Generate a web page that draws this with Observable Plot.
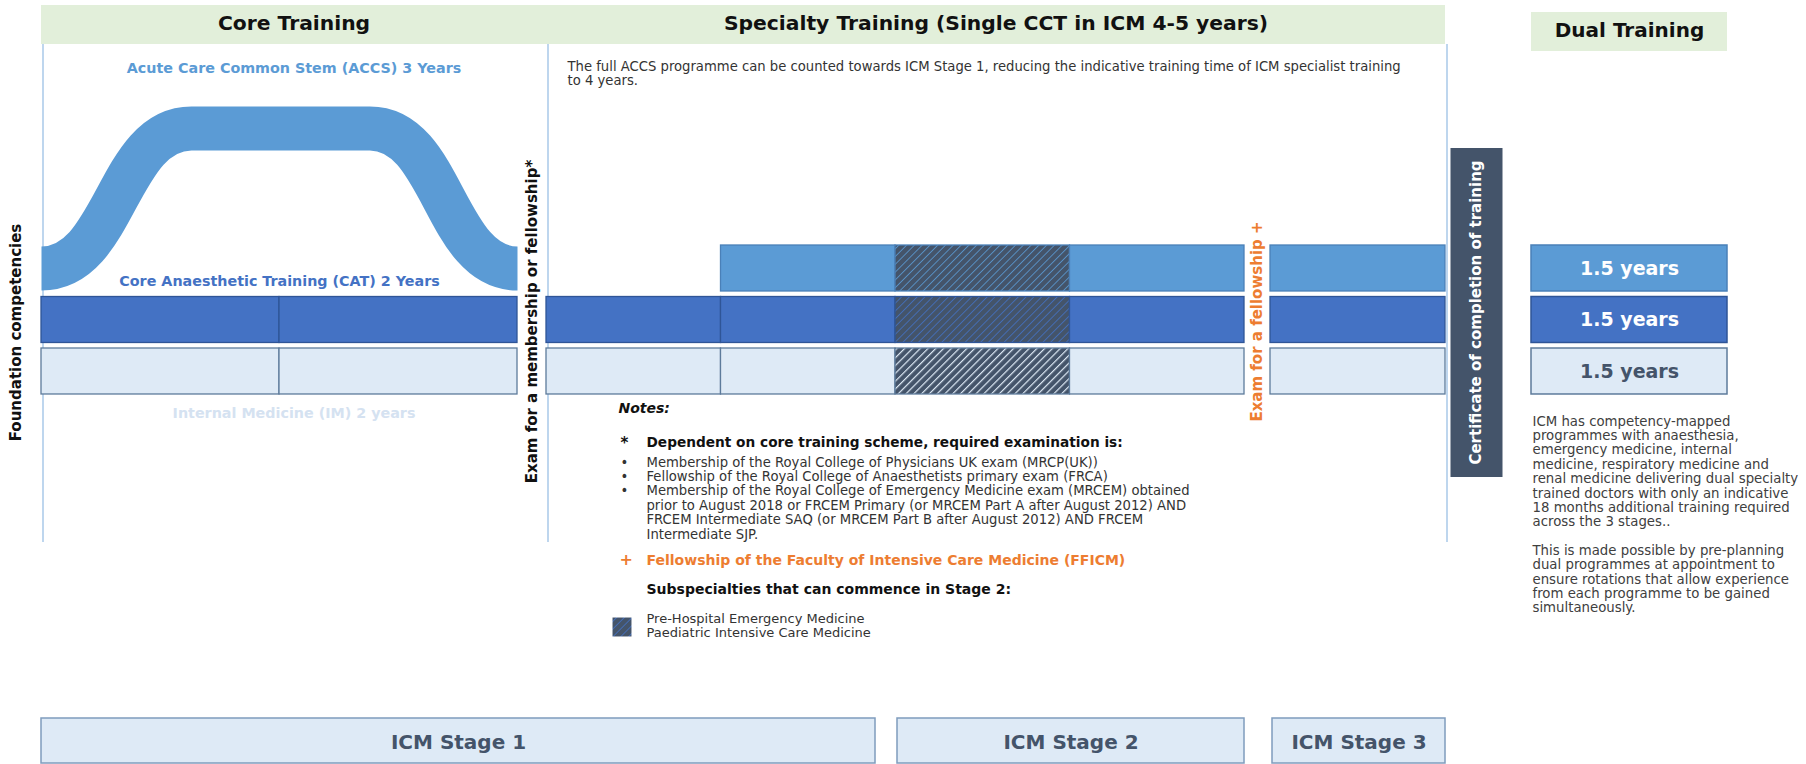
<!DOCTYPE html>
<html>
<head>
<meta charset="utf-8">
<script src="https://cdn.jsdelivr.net/npm/d3@7"></script>
<script src="https://cdn.jsdelivr.net/npm/@observablehq/plot@0.6"></script>
<style>
  html, body { margin: 0; padding: 0; background: #fff; overflow: hidden; }
  #chart svg { display: block; }
</style>
</head>
<body>
<div id="chart"></div>
<script>
// ---------------- DATA ----------------
const programmes = ["ACCS", "CAT", "IM"];
const programmeLabels = [
  "Acute Care Common Stem (ACCS) 3 Years",
  "Core Anaesthetic Training (CAT) 2 Years",
  "Internal Medicine (IM) 2 years"
];
// training blocks (years from start of core training)
const blockProgramme = ["ACCS","ACCS","ACCS","ACCS", "CAT","CAT","CAT","CAT","CAT","CAT","CAT", "IM","IM","IM","IM","IM","IM","IM"];
const blockStart     = [3,4,5,6, 0,1,2,3,4,5,6, 0,1,2,3,4,5,6];
const blockEnd       = [4,5,6,7, 1,2,3,4,5,6,7, 1,2,3,4,5,6,7];
const subspecialtyWindow = [4, 5];          // years where subspecialties can commence
// ACCS path over the core years (rise 0 = in lane, 1 = lifted)
const accsArcYear = [0, 0.63, 1.38, 2];
const accsArcRise = [0, 1, 1, 0];

const headerLabels = ["Core Training", "Specialty Training (Single CCT in ICM 4-5 years)"];
const headerFrom = [0, 2];
const headerTo   = [2, 7];

const stageNames = ["ICM Stage 1", "ICM Stage 2", "ICM Stage 3"];
const stageStart = [0, 4, 6];
const stageEnd   = [4, 6, 7];

const examLabels = ["Exam for a membership or fellowship*", "Exam for a fellowship +"];
const examAfterYear = [2, 6];
const completionLabel = "Certificate of completion of training";
const completionYear = 7;

const dualTitle = "Dual Training";
const dualYears = [1.5, 1.5, 1.5];
const dualLabel = "1.5 years";

const foundationLabel = "Foundation competencies";
const topNote = "The full ACCS programme can be counted towards ICM Stage 1, reducing the indicative training time of ICM specialist training\nto 4 years.";
const notesTitle = "Notes:";
const examNoteHead = "Dependent on core training scheme, required examination is:";
const examNoteItems = [
  "Membership of the Royal College of Physicians UK exam (MRCP(UK))",
  "Fellowship of the Royal College of Anaesthetists primary exam (FRCA)",
  "Membership of the Royal College of Emergency Medicine exam (MRCEM) obtained\nprior to August 2018 or FRCEM Primary (or MRCEM Part A after August 2012) AND\nFRCEM Intermediate SAQ (or MRCEM Part B after August 2012) AND FRCEM\nIntermediate SJP."
];
const fellowshipNote = "Fellowship of the Faculty of Intensive Care Medicine (FFICM)";
const subspecialtyHead = "Subspecialties that can commence in Stage 2:";
const subspecialties = ["Pre-Hospital Emergency Medicine", "Paediatric Intensive Care Medicine"];
const dualNote = [
  "ICM has competency-mapped", "programmes with anaesthesia,", "emergency medicine, internal",
  "medicine, respiratory medicine and", "renal medicine delivering dual specialty",
  "trained doctors with only an indicative", "18 months additional training required",
  "across the 3 stages..", "",
  "This is made possible by pre-planning", "dual programmes at appointment to",
  "ensure rotations that allow experience", "from each programme to be gained", "simultaneously."
];

// ---------------- STYLE ----------------
const FILL = {ACCS: "#5b9bd5", CAT: "#4472c4", IM: "#deeaf6"};
const EDGE = {ACCS: "#4a80b8", CAT: "#2f5597", IM: "#5d7b9b"};
const LABEL = {ACCS: "#5b9bd5", CAT: "#4472c4", IM: "#d5e2f1"};
const HATCH_BG = "#44546a";
const GREEN = "#e2efda";
const ORANGE = "#ed7d31";
const SLATE = "#44546a";
const FONT = "'DejaVu Sans', sans-serif";
const STAGE1_TRIM = 20;                  // px gap between stage 1 and stage 2 boxes

// timeline: exam slots are inserted as gaps after years 2 and 6
const GAP = [0.17, 0.15];
const tStart = y => y + (y >= examAfterYear[0] ? GAP[0] : 0) + (y >= examAfterYear[1] ? GAP[1] : 0);
const tEnd   = y => y + (y >  examAfterYear[0] ? GAP[0] : 0) + (y >  examAfterYear[1] ? GAP[1] : 0);
const DUAL0 = tEnd(7) + 0.5;
const X_DOMAIN = [tStart(0), tEnd(2), tStart(2), tEnd(6), tStart(6), tEnd(7), DUAL0, DUAL0 + 1.5];
const X_RANGE  = [41, 517, 546, 1244, 1270, 1445, 1531, 1727];
const xs = d3.scaleLinear().domain(X_DOMAIN).range(X_RANGE);
const midX = (a, b, trim = 0) => xs.invert((xs(a) + xs(b) - trim) / 2);
const LANE = 0.893;                      // lane thickness (in lane units)
const ARCH_RISE = 2.72;                  // lane units

const blocks = blockProgramme.map((p, i) => ({
  programme: p, start: blockStart[i], end: blockEnd[i],
  sub: blockStart[i] >= subspecialtyWindow[0] && blockEnd[i] <= subspecialtyWindow[1]
}));
const lane = p => programmes.indexOf(p);
const arc = accsArcYear.map((y, i) => ({year: y, rise: accsArcRise[i]}));
const headers = headerLabels.map((t, i) => ({label: t, from: headerFrom[i], to: headerTo[i]}));
const stages = stageNames.map((t, i) => ({label: t, start: stageStart[i], end: stageEnd[i]}));
const exams = examLabels.map((t, i) => ({label: t, year: examAfterYear[i]}));
const duals = programmes.map((p, i) => ({programme: p, years: dualYears[i]}));

const note = (text, o) => Plot.text([text], Object.assign({
  frameAnchor: "top-left", textAnchor: "start", lineAnchor: "top",
  fontFamily: FONT, fontSize: 12.5, fill: "#333"
}, o));

const svg = Plot.plot({
  width: 1806, height: 764, margin: 0,
  x: {type: "linear", axis: null, domain: X_DOMAIN, range: X_RANGE},
  y: {type: "linear", axis: null, domain: [0, 3], range: [245, 399.5]},
  color: {type: "identity"},
  style: {fontFamily: FONT, background: "#fff", overflow: "visible"},
  marks: [
    // header band
    Plot.rect([0], {x1: tStart(0), x2: tEnd(7), fill: GREEN, insetTop: 5, insetBottom: 720}),
    Plot.text(headers, {x: d => midX(tStart(d.from), d.to === 7 ? tEnd(d.to) : tStart(d.to)),
      text: "label", frameAnchor: "top", lineAnchor: "middle", dy: 23, fontSize: 20.3, fontWeight: 700, fill: "#111"}),
    // dual header
    Plot.rect([0], {x1: DUAL0, x2: DUAL0 + 1.5, fill: GREEN, insetTop: 12, insetBottom: 713}),
    Plot.text([dualTitle], {x: DUAL0 + 0.75, frameAnchor: "top", lineAnchor: "middle", dy: 30, fontSize: 20, fontWeight: 700, fill: "#111"}),
    // panel lines
    Plot.ruleX([tStart(0), tStart(2), tEnd(7)], {x: d => d, dx: 1.5, stroke: "#a9c8e8", strokeWidth: 1.5, insetTop: 44, insetBottom: 222}),
    // ACCS arch
    Plot.line(arc, {x: "year", y: d => lane("ACCS") + LANE / 2 - d.rise * ARCH_RISE, curve: "bump-x",
      stroke: FILL.ACCS, strokeWidth: 44, strokeLinecap: "butt"}),
    // programme labels
    Plot.text([programmeLabels[0]], {x: midX(tStart(0), tStart(2)), y: lane("ACCS"), dy: -177,
      fontSize: 14.3, fontWeight: 700, fill: LABEL.ACCS}),
    Plot.text([programmeLabels[1]], {x: midX(tStart(0), tEnd(2)), y: lane("CAT"), dy: -16,
      fontSize: 14.3, fontWeight: 700, fill: LABEL.CAT}),
    Plot.text([programmeLabels[2]], {x: midX(tStart(0), tStart(2)), y: lane("IM") + LANE, dy: 19,
      fontSize: 14.3, fontWeight: 700, fill: LABEL.IM}),
    // training blocks
    Plot.rect(blocks, {x1: d => tStart(d.start), x2: d => tEnd(d.end),
      y1: d => lane(d.programme), y2: d => lane(d.programme) + LANE,
      fill: d => d.sub ? `url(#hatch-${d.programme})` : FILL[d.programme],
      stroke: d => EDGE[d.programme], strokeWidth: 1.3}),
    // exam markers
    Plot.text(exams, {x: d => midX(tEnd(d.year), tStart(d.year)), text: "label", rotate: -90, dy: -61,
      fontSize: 15, fontWeight: 700, fill: (d, i) => i === 0 ? "#111" : ORANGE}),
    // completion certificate
    Plot.ruleX([completionYear], {x: d => tEnd(d), dx: 31, stroke: SLATE, strokeWidth: 52, insetTop: 148, insetBottom: 287}),
    Plot.text([completionLabel], {x: tEnd(completionYear), dx: 31, dy: -70, rotate: -90,
      fontSize: 15, fontWeight: 700, fill: "#fff"}),
    // foundation
    Plot.text([foundationLabel], {frameAnchor: "left", textAnchor: "middle", dx: 16, dy: -50, rotate: -90,
      fontSize: 15, fontWeight: 700, fill: "#111"}),
    // dual training boxes
    Plot.rect(duals, {x1: DUAL0, x2: d => DUAL0 + d.years,
      y1: d => lane(d.programme), y2: d => lane(d.programme) + LANE,
      fill: d => FILL[d.programme], stroke: d => EDGE[d.programme], strokeWidth: 1.5}),
    Plot.text(duals, {x: d => DUAL0 + d.years / 2, y: d => lane(d.programme) + LANE / 2,
      text: () => dualLabel, fontSize: 19, fontWeight: 700,
      fill: d => d.programme === "IM" ? SLATE : "#fff"}),
    // stages
    Plot.rect(stages.slice(0, 1), {x1: d => tStart(d.start), x2: d => tEnd(d.end), fill: "#deeaf6",
      stroke: "#7f9cbd", strokeWidth: 1.5, insetTop: 718, insetBottom: 1, insetRight: STAGE1_TRIM}),
    Plot.rect(stages.slice(1), {x1: d => tStart(d.start), x2: d => tEnd(d.end), fill: "#deeaf6",
      stroke: "#7f9cbd", strokeWidth: 1.5, insetTop: 718, insetBottom: 1, insetLeft: 2}),
    Plot.text(stages, {x: d => midX(tStart(d.start), tEnd(d.end), d.start === 0 ? STAGE1_TRIM : -2), text: "label",
      frameAnchor: "bottom", lineAnchor: "middle", dy: -22, fontSize: 20, fontWeight: 700, fill: SLATE}),
    // notes
    note(topNote, {dx: 567, dy: 61, lineHeight: 1.06, fontSize: 13.2, fill: "#333"}),
    note(notesTitle, {dx: 618, dy: 403, fontSize: 14, fontWeight: 700, fontStyle: "italic", fill: "#111"}),
    note("*", {dx: 620, dy: 437, fontSize: 15, fontWeight: 700, fill: "#111"}),
    note(examNoteHead, {dx: 646, dy: 437, fontSize: 13.7, fontWeight: 700, fill: "#111"}),
    note("•\n•\n•", {dx: 620, dy: 456, lineHeight: 1.09, fontSize: 13.2, fill: "#333"}),
    note(examNoteItems.join("\n"), {dx: 646, dy: 456, lineHeight: 1.09, fontSize: 13.2, fill: "#333"}),
    note("+", {dx: 619, dy: 553, fontSize: 16, fontWeight: 700, fill: ORANGE}),
    note(fellowshipNote, {dx: 646, dy: 555, fontSize: 14, fontWeight: 700, fill: ORANGE}),
    note(subspecialtyHead, {dx: 646, dy: 584, fontSize: 14, fontWeight: 700, fill: "#111"}),
    Plot.dot([0], {frameAnchor: "top-left", dx: 621.5, dy: 626.5, symbol: "square", r: 10.7,
      fill: "url(#hatch-CAT)", stroke: "none"}),
    note(subspecialties.join("\n"), {dx: 646, dy: 613, lineHeight: 1.07, fontSize: 13, fill: "#333"}),
    note(dualNote.join("\n"), {dx: 1532, dy: 415, lineHeight: 1.08, fontSize: 13.3, fill: "#404040"})
  ]
});

// hatch patterns for the subspecialty window
const defs = document.createElementNS("http://www.w3.org/2000/svg", "defs");
defs.innerHTML = programmes.map(p => `
  <pattern id="hatch-${p}" patternUnits="userSpaceOnUse" width="5.5" height="5.5" patternTransform="rotate(45)">
    <rect width="5.5" height="5.5" fill="${HATCH_BG}"/>
    <line x1="0" y1="0" x2="0" y2="5.5" stroke="${FILL[p]}" stroke-width="${p === "IM" ? 2.4 : 1.6}"/>
  </pattern>`).join("");
svg.insertBefore(defs, svg.firstChild);
document.getElementById("chart").appendChild(svg);
</script>
</body>
</html>
